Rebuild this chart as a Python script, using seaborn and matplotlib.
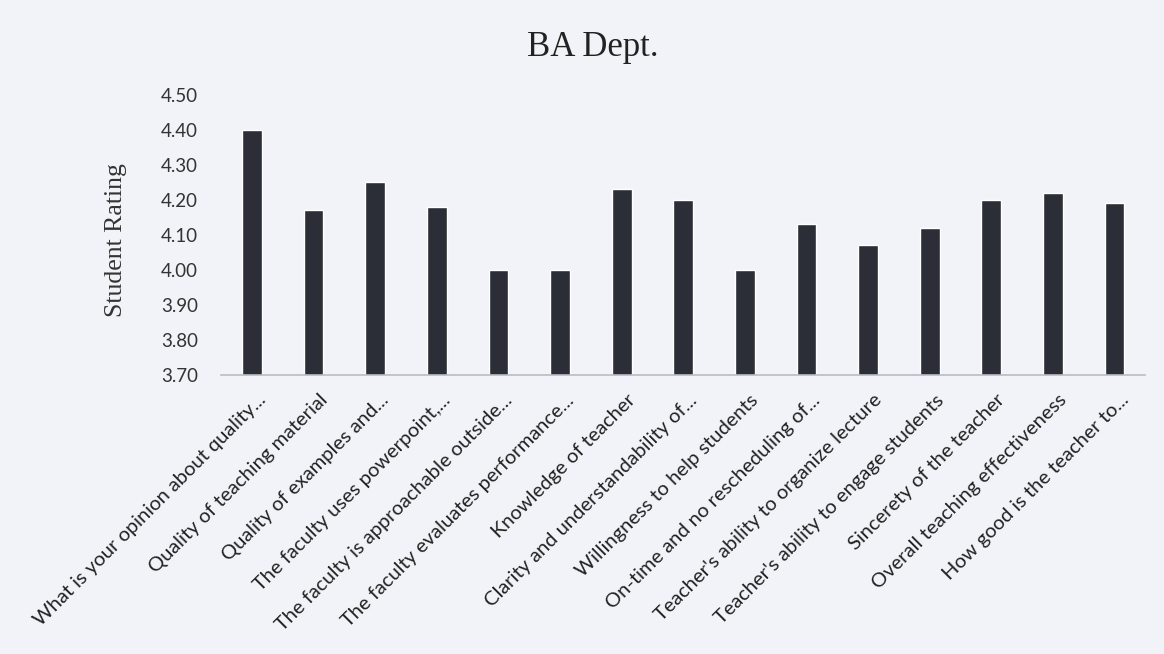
import numpy as np
import pandas as pd
import matplotlib
matplotlib.use("Agg")
import matplotlib.pyplot as plt
import matplotlib.transforms as mtransforms
import seaborn as sns

# ── Data ──────────────────────────────────────────────────────────────────────
questions = [
    "What is your opinion about quality...",
    "Quality of teaching material",
    "Quality of examples and...",
    "The faculty uses powerpoint,...",
    "The faculty is approachable outside...",
    "The faculty evaluates performance...",
    "Knowledge of teacher",
    "Clarity and understandability of...",
    "Willingness to help students",
    "On-time and no rescheduling of...",
    "Teacher's ability to organize lecture",
    "Teacher's ability to engage students",
    "Sincerety of the teacher",
    "Overall teaching effectiveness",
    "How good is the teacher to...",
]
ratings = [4.40, 4.17, 4.25, 4.18, 4.00, 4.00, 4.23, 4.20, 4.00, 4.13,
           4.07, 4.12, 4.20, 4.22, 4.19]
y_ticks = [3.70, 3.80, 3.90, 4.00, 4.10, 4.20, 4.30, 4.40, 4.50]

BG = "#f1f3f8"
BAR = "#2b2e37"

df = pd.DataFrame({"question": questions, "rating": ratings})

# ── Chart ─────────────────────────────────────────────────────────────────────
sns.set_style("white")
fig = plt.figure(figsize=(11.64, 6.54), dpi=100, facecolor=BG)
ax = fig.add_axes([0.19, 0.4266, 0.794, 0.4284])
ax.set_facecolor(BG)

sns.barplot(data=df, x="question", y="rating", color=BAR, width=0.32,
            saturation=1, ax=ax)

ax.set_ylim(3.70, 4.50)
ax.set_yticks(y_ticks)
ax.set_yticklabels([f"{t:.2f}" for t in y_ticks], family="Lato", fontsize=13.5,
                   color="#333333")
ax.set_xticks(range(len(questions)))
ax.set_xticklabels(questions, rotation=45, ha="right", va="top",
                   rotation_mode="anchor", family="Lato", fontsize=14.5,
                   color="#222222")
ax.tick_params(axis="y", length=0, pad=16.5)
ax.tick_params(axis="x", length=0, pad=6)

# nudge the slanted labels a touch right/down, like the original
offset = mtransforms.ScaledTranslation(0.05, -0.08, fig.dpi_scale_trans)
for lbl in ax.xaxis.get_majorticklabels():
    lbl.set_transform(lbl.get_transform() + offset)

for side in ["top", "right", "left"]:
    ax.spines[side].set_visible(False)
ax.spines["bottom"].set_color("#b8bcc4")
ax.spines["bottom"].set_linewidth(1.2)

ax.set_xlabel("")
ax.set_ylabel("Student Rating", family="Liberation Serif", fontsize=18.5,
              color="#333333")
ax.yaxis.set_label_coords(-0.102, 0.48)
fig.text(0.509, 0.928, "BA Dept.", ha="center", va="center",
         family="Liberation Serif", fontsize=25, color="#222222")

plt.savefig("out.png", dpi=100, facecolor=BG)
plt.close()
